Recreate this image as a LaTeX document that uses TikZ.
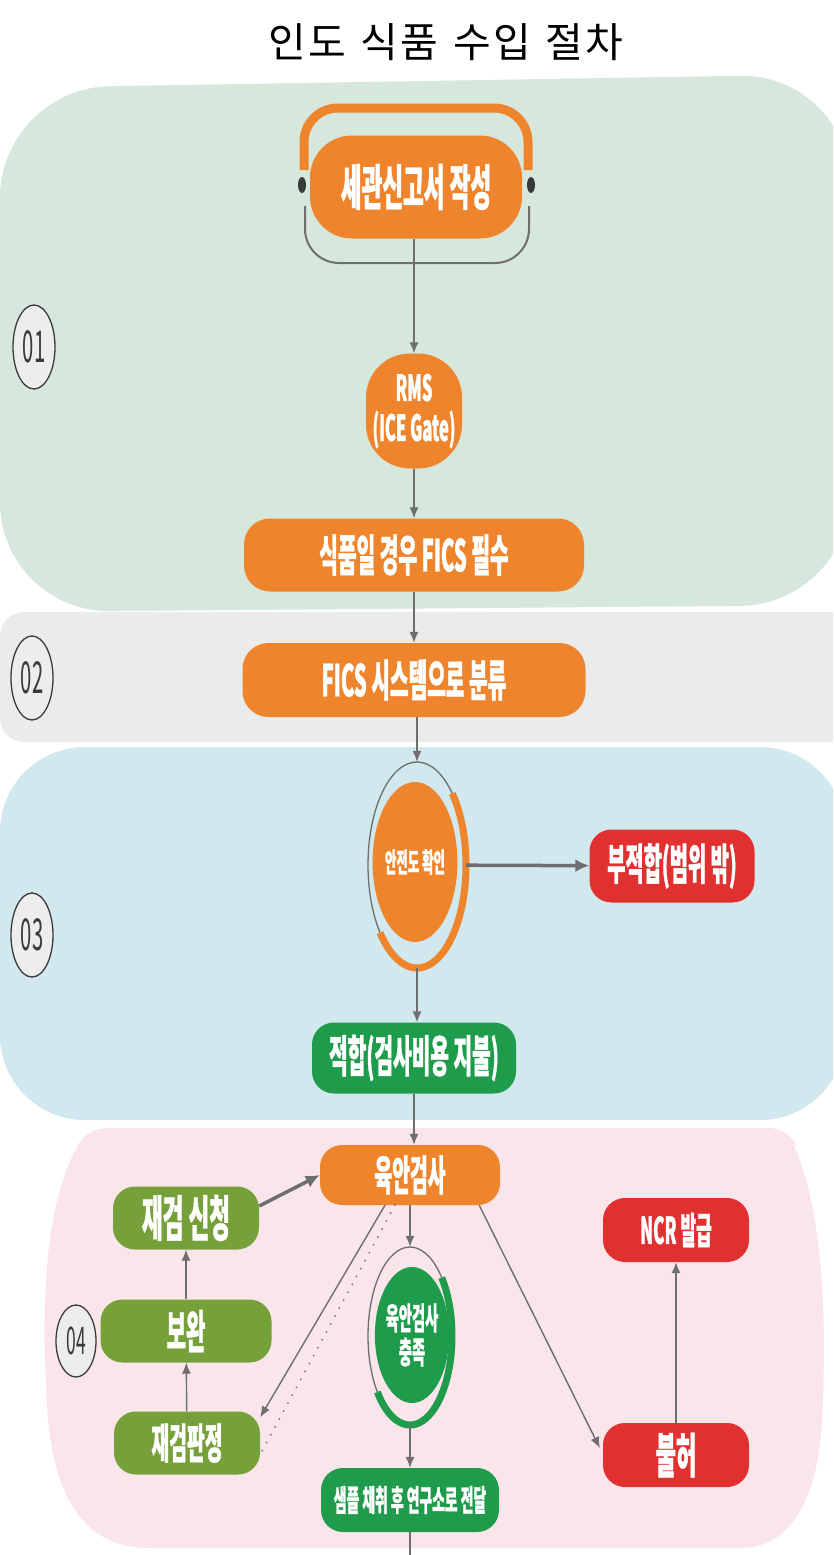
\documentclass[tikz,border=0pt]{standalone}
\usepackage{fontspec}
\setmainfont{Noto Sans CJK KR}
\newfontfamily\kofont{Noto Sans CJK KR}[FakeStretch=0.46, BoldFeatures={FakeBold=0.8}]
\newfontfamily\titlefont{Noto Sans CJK KR}[LetterSpace=5]
\usepackage{tikz}
\usetikzlibrary{arrows.meta,shapes.geometric}
\definecolor{bandA}{HTML}{D5E8DB}
\definecolor{bandB}{HTML}{E9ECEB}
\definecolor{bandC}{HTML}{D0E8EE}
\definecolor{bandD}{HTML}{F9E5EA}
\definecolor{orfill}{HTML}{EE842C}
\definecolor{redfill}{HTML}{E0302F}
\definecolor{grnfill}{HTML}{1E9B4B}
\definecolor{olvfill}{HTML}{76A03A}
\definecolor{arrline}{HTML}{6E6E6E}
\definecolor{stepfill}{HTML}{EDEDED}
\definecolor{stepline}{HTML}{3A3A3A}

\begin{document}
\begin{tikzpicture}[
  x=1pt, y=-1pt,
  blk/.style={rounded corners=22pt, inner sep=0pt, align=center, text=white, minimum width=146pt, minimum height=63pt, font=\kofont\bfseries\fontsize{46}{48}\selectfont},
  obox/.style={blk, fill=orfill},
  rbox/.style={blk, fill=redfill},
  gbox/.style={blk, fill=grnfill},
  lbox/.style={blk, fill=olvfill},
  oval/.style={ellipse, inner sep=0pt, align=center, text=white, font=\kofont\bfseries\fontsize{31}{34}\selectfont},
  ring/.style={ellipse, inner sep=0pt},
  bunho/.style={ellipse, draw=stepline, line width=1.3pt, fill=stepfill, inner sep=0pt, minimum width=42pt, minimum height=84pt, font=\kofont\fontsize{44}{44}\selectfont, text=stepline},
  arr/.style={-{Latex[length=11pt, width=9pt]}, line width=1.4pt, draw=arrline},
  arrbold/.style={-{Latex[length=14pt, width=13pt]}, line width=3.5pt, draw=arrline},
  dotline/.style={draw=arrline, line width=2pt, line cap=round, dash pattern=on 0pt off 9pt},
  garc/.style={draw=arrline, line width=1.3pt},
  oarc/.style={draw=orfill, line width=7pt},
  narc/.style={draw=grnfill, line width=7pt}
]
  \useasboundingbox (0,0) rectangle (833,1555);
  \fill[white] (0,0) rectangle (833,1555);

  % 배경 띠
  \begin{scope}
    \clip (0,0) rectangle (833,1555);
    \fill[bandB, rounded corners=24pt] (0,612) rectangle (900,742);
    \fill[bandA, rounded corners=110pt] (0,612) -- (0,88) -- (850,74) -- (850,605) -- cycle;
    \fill[bandC, rounded corners=85pt] (0,747) rectangle (845,1120);
    \fill[bandD] (78,1145) to[out=60,in=180] (112,1128) -- (768,1128) to[out=0,in=120] (796,1145) -- cycle;
    \fill[bandD] (80,1142) .. controls (45,1200) and (40,1300) .. (48,1420) .. controls (58,1520) and (100,1548) .. (150,1548) -- (740,1548) .. controls (790,1548) and (818,1500) .. (822,1420) .. controls (828,1300) and (820,1200) .. (792,1142) -- cycle;
  \end{scope}

  \node[font=\titlefont\fontsize{41}{44}\selectfont] (title) at (446,42) {\spaceskip=15pt\relax 인도 식품 수입 절차};

  % 단계 번호
  \node[bunho] (b1) at (34,347) {01};
  \node[bunho] (b2) at (32,678) {02};
  \node[bunho] (b3) at (32,935) {03};
  \node[bunho, minimum width=40pt, minimum height=72pt, font=\kofont\fontsize{38}{38}\selectfont] (b4) at (76,1341) {04};

  % 01, 02
  \node[obox, minimum width=212pt, minimum height=103pt, rounded corners=42pt, font=\kofont\bfseries\fontsize{49}{51}\selectfont] (singo) at (416,187) {세관신고서 작성};
  \node[obox, minimum width=96pt, minimum height=115pt, rounded corners=44pt, font=\kofont\bfseries\fontsize{36}{40}\selectfont] (rms) at (414,411) {RMS\\(ICE Gate)};
  \node[obox, minimum width=340pt, minimum height=73pt, rounded corners=26pt, font=\kofont\bfseries\fontsize{44}{46}\selectfont] (fics) at (414,555) {식품일 경우 FICS 필수};
  \node[obox, minimum width=343pt, minimum height=74pt, rounded corners=26pt, font=\kofont\bfseries\fontsize{44}{46}\selectfont] (bunryu) at (414,680) {FICS 시스템으로 분류};

  \draw[orfill, line width=9pt, rounded corners=34pt] (304,170) -- (304,108) -- (528,108) -- (528,170);
  \draw[garc, line width=2pt, rounded corners=34pt] (305,206) -- (305,263) -- (529,263) -- (529,206);
  \fill[stepline] (302,185) ellipse [x radius=4pt, y radius=8pt];
  \fill[stepline] (531,185) ellipse [x radius=4pt, y radius=8pt];

  % 03
  \node[ring, minimum width=98pt, minimum height=206pt] (anjeonring) at (417,865) {};
  \node[oval, fill=orfill, minimum width=76pt, minimum height=160pt, font=\kofont\bfseries\fontsize{27}{30}\selectfont] (anjeon) at (415,862) {안전도 확인};
  \draw[garc] (anjeonring.center) ++(44:49pt and 103pt) arc[start angle=44, end angle=221, x radius=49pt, y radius=103pt];
  \draw[oarc] (anjeonring.center) ++(44:49pt and 103pt) arc[start angle=44, end angle=-139, x radius=49pt, y radius=103pt];
  \node[rbox, minimum width=165pt, minimum height=73pt, font=\kofont\bfseries\fontsize{43}{45}\selectfont] (bujeok) at (672,866) {부적합(범위 밖)};
  \node[gbox, minimum width=204pt, minimum height=71pt, font=\kofont\bfseries\fontsize{44}{46}\selectfont] (jeokhap) at (414,1058) {적합(검사비용 지불)};

  % 04
  \node[obox, minimum width=180pt, minimum height=60pt, font=\kofont\bfseries\fontsize{42}{44}\selectfont] (yukan) at (410,1175) {육안검사};
  \node[lbox, font=\kofont\bfseries\fontsize{49}{51}\selectfont] (jaesin) at (186,1218) {재검 신청};
  \node[lbox, minimum width=171pt] (bowan) at (186,1331) {보완};
  \node[lbox, font=\kofont\bfseries\fontsize{42}{44}\selectfont] (jaepan) at (187,1443) {재검판정};
  \node[ring, minimum width=84pt, minimum height=178pt] (chungring) at (410,1336) {};
  \node[oval, fill=grnfill, minimum width=64pt, minimum height=136pt] (chungjok) at (412,1335) {육안검사\\충족};
  \draw[garc] (chungring.center) ++(41:42pt and 89pt) arc[start angle=41, end angle=219, x radius=42pt, y radius=89pt];
  \draw[narc] (chungring.center) ++(41:42pt and 89pt) arc[start angle=41, end angle=-141, x radius=42pt, y radius=89pt];
  \node[gbox, minimum width=178pt, minimum height=64pt, font=\kofont\bfseries\fontsize{30}{32}\selectfont] (saempeul) at (410,1500) {샘플 채취 후 연구소로 전달};
  \node[rbox, minimum height=64pt, font=\kofont\bfseries\fontsize{37}{39}\selectfont] (ncr) at (676,1230) {NCR 발급};
  \node[rbox, minimum height=64pt, font=\kofont\bfseries\fontsize{48}{50}\selectfont] (bulheo) at (676,1455) {불허};
  \coordinate (naga) at (410,1562);

  % 흐름
  \draw[arr] (singo.south -| fics) -- (rms);
  \draw[arr] (rms) -- (fics);
  \draw[arr] (fics) -- (bunryu);
  \draw[arr] (bunryu.south -| anjeonring) -- (anjeonring.north);
  \draw[arrbold] (anjeonring) -- (bujeok);
  \draw[arr] (anjeonring.south) -- (anjeonring.south |- jeokhap.north);
  \draw[arr] (jeokhap.south) -- (jeokhap.south |- yukan.north);
  \draw[arr] (yukan) -- (chungring.north);
  \draw[arr] (chungring.south) -- (saempeul);
  \draw[arrline, line width=1.4pt] (saempeul) -- (naga);
  \draw[arr] ([xshift=-25pt]yukan.south) -- ([yshift=-6pt]jaepan.north east);
  \draw[dotline] ([xshift=-15pt]yukan.south) -- ([xshift=2pt, yshift=24pt]jaepan.south east);
  \draw[arr] ([xshift=-21pt]yukan.south east) -- ([yshift=7pt, xshift=-3pt]bulheo.west);
  \draw[arr] (bulheo) -- (ncr);
  \draw[arr] (jaepan) -- (bowan);
  \draw[arr] (bowan) -- (jaesin);
  \draw[arrbold] ([yshift=12pt]jaesin.east) -- (yukan.west);
\end{tikzpicture}
\end{document}
